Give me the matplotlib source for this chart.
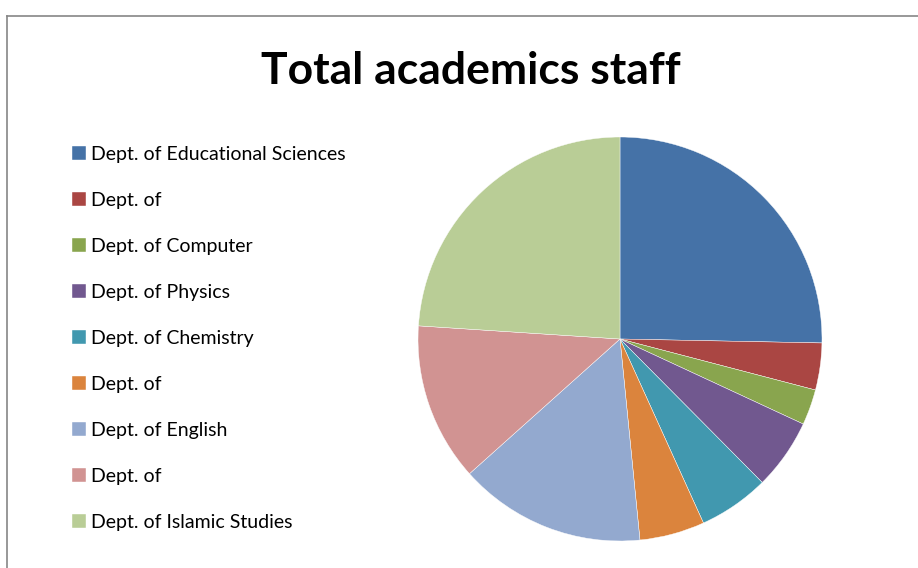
"""
Pie chart of total academic staff per department.
"""
import matplotlib
matplotlib.use('Agg')
import matplotlib.pyplot as plt
from matplotlib.lines import Line2D

departments = ['Dept. of Educational Sciences', 'Dept. of', 'Dept. of Computer',
               'Dept. of Physics', 'Dept. of Chemistry', 'Dept. of',
               'Dept. of English', 'Dept. of', 'Dept. of Islamic Studies']
staff_share = [25.3, 3.75, 2.85, 5.65, 5.65, 5.2, 14.95, 12.65, 23.95]
slice_colors = ['#4572A7', '#AA4643', '#89A54E', '#71588F', '#4198AF',
                '#DB843D', '#93A9CF', '#D19392', '#B9CD96']


def main():
    fig = plt.figure(figsize=(9.18, 5.68), dpi=100)

    # frame of the chart area (only top/left visible in the original crop)
    fig.add_artist(Line2D([6.5 / 918, 6.5 / 918], [0, 1 - 15.5 / 568],
                          color='#868686', lw=1.2, transform=fig.transFigure))
    fig.add_artist(Line2D([6.5 / 918, 1], [1 - 15.5 / 568, 1 - 15.5 / 568],
                          color='#868686', lw=1.2, transform=fig.transFigure))

    fig.text(471 / 918, 1 - 71 / 568, 'Total academics staff', ha='center', va='center',
             fontsize=32, fontweight='bold', family=['Lato', 'DejaVu Sans'])

    cx, cy, r = 620 / 918, 1 - 339 / 568, 202
    w, h = 2 * r / 918, 2 * r / 568
    ax = fig.add_axes([cx - w / 2, cy - h / 2, w, h])
    wedges, _ = ax.pie(staff_share, colors=slice_colors, startangle=90, counterclock=False,
                       radius=1, wedgeprops=dict(edgecolor='white', linewidth=0.3))
    ax.set_xlim(-1, 1)
    ax.set_ylim(-1, 1)
    ax.set_aspect('equal')
    ax.axis('off')

    fig.legend(wedges, departments, loc='upper left', bbox_to_anchor=(72 / 918, 1 - 146 / 568),
               frameon=False, prop=dict(family=['Lato', 'DejaVu Sans'], size=14),
               handlelength=0.7, handleheight=0.7, handletextpad=0.3,
               labelspacing=1.49, borderpad=0, borderaxespad=0)

    plt.savefig('out.png', dpi=100)
    plt.close()


if __name__ == '__main__':
    main()
